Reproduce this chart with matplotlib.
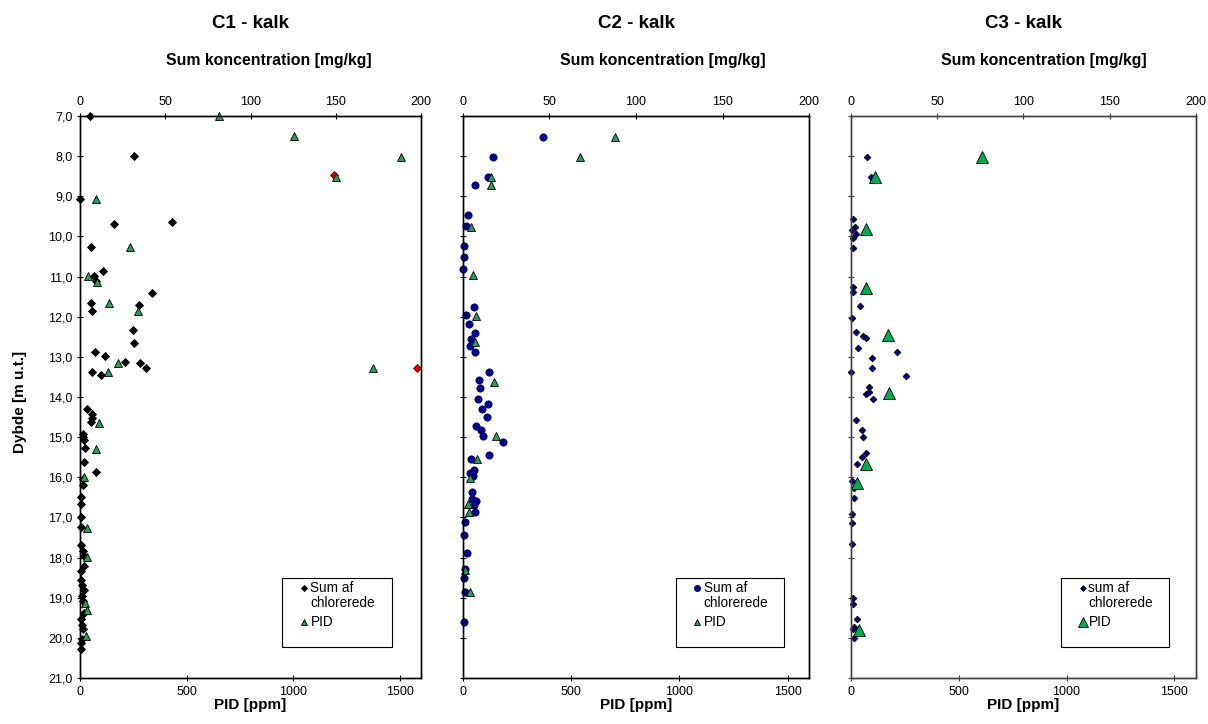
import matplotlib
matplotlib.use("Agg")
import matplotlib.pyplot as plt
from matplotlib.ticker import FuncFormatter
from matplotlib.patches import Rectangle

plt.rcParams['font.family'] = ['Liberation Sans', 'DejaVu Sans']

# ---- data ----
# C1
c1_sum_depth = [7.0, 8.0, 9.08, 9.63, 9.69, 10.27, 10.87, 10.99, 11.1, 11.41,
                11.65, 11.71, 11.87, 12.33, 12.65, 12.88, 12.99, 13.14, 13.16, 13.29,
                13.38, 13.46, 14.31, 14.42, 14.52, 14.62, 14.92, 15.0, 15.06, 15.28,
                15.61, 15.88, 16.05, 16.2, 16.49, 16.66, 17.0, 17.24, 17.69, 17.84,
                17.95, 18.2, 18.34, 18.55, 18.69, 18.81, 18.96, 19.09, 19.38, 19.54,
                19.69, 19.79, 20.02, 20.14, 20.27]
c1_sum = [5.9, 31.7, 0.0, 53.8, 20.1, 6.6, 13.3, 8.4, 9.4, 42.0,
          6.6, 34.8, 7.0, 31.1, 31.9, 9.0, 14.7, 26.4, 35.2, 38.7,
          7.2, 12.1, 4.3, 6.8, 7.0, 6.5, 2.0, 2.0, 2.3, 3.1,
          2.3, 9.4, 2.0, 1.6, 0.6, 0.6, 0.4, 0.4, 0.8, 1.6,
          2.5, 2.3, 0.8, 0.6, 1.4, 2.3, 1.2, 1.6, 2.5, 0.6,
          1.0, 2.0, 1.0, 0.6, 0.4]
c1_red_depth = [8.47, 13.29]
c1_red = [149.2, 197.5]
c1_pid_depth = [7.0, 7.5, 8.02, 8.51, 9.08, 10.26, 10.99, 11.14, 11.65, 11.86, 13.16,
                13.29, 13.37, 14.66, 15.29, 16.0, 17.26, 17.98, 19.13, 19.31, 19.96]
c1_pid = [652, 1003, 1505, 1203, 77, 236, 39, 81, 136, 271, 180,
          1373, 133, 91, 74, 19, 34, 31, 25, 31, 27]

# C2
c2_sum_depth = [7.53, 8.03, 8.52, 8.73, 9.47, 9.75, 10.23, 10.52, 10.82,
                11.75, 11.95, 12.17, 12.40, 12.56, 12.73, 12.87,
                13.38, 13.58, 13.78, 14.06, 14.18, 14.30, 14.50, 14.72,
                14.83, 14.98, 15.11, 15.45, 15.55, 15.83, 15.90, 15.96,
                16.37, 16.55, 16.60, 16.68, 16.87, 17.12, 17.43, 17.88,
                18.29, 18.51, 18.86, 19.60]
c2_sum = [46.5, 17.7, 14.8, 7.1, 3.3, 1.9, 0.8, 0.8, 0.4,
          6.3, 1.9, 3.8, 6.9, 5.0, 4.0, 7.1,
          15.4, 9.6, 10.2, 8.8, 14.6, 11.2, 14.0, 7.7,
          10.6, 11.5, 23.1, 15.4, 4.8, 6.5, 4.4, 6.2,
          5.4, 5.2, 7.5, 6.7, 7.3, 1.2, 1.0, 2.3,
          1.3, 1.0, 1.3, 0.8]
c2_pid_depth = [7.53, 8.03, 8.52, 8.73, 9.76, 10.96, 11.98, 12.63,
                13.63, 14.96, 15.55, 16.02, 16.67, 16.87, 18.32, 18.86]
c2_pid = [702, 543, 132, 132, 40, 49, 62, 58, 145, 152, 68, 32, 26, 28, 11, 34]

# C3
c3_sum_depth = [8.02, 8.52, 9.57, 9.76, 9.84, 9.95, 10.05, 10.28, 11.27, 11.39,
                11.73, 12.02, 12.37, 12.48, 12.52, 12.78, 12.88, 13.03, 13.27, 13.38,
                13.48, 13.76, 13.88, 13.93, 14.04, 14.58, 14.81, 15.0, 15.39, 15.50,
                15.66, 16.09, 16.26, 16.51, 16.91, 17.14, 17.67, 19.0, 19.15, 19.53,
                19.72, 19.78, 20.0]
c3_sum = [9.3, 11.6, 1.4, 2.3, 0.8, 3.1, 1.4, 1.2, 1.4, 1.5,
          5.2, 0.8, 3.1, 7.1, 8.7, 4.4, 26.8, 12.5, 12.2, 0.2,
          32.2, 10.6, 10.8, 8.7, 12.7, 3.1, 6.8, 7.3, 8.7, 6.6,
          3.9, 1.0, 2.1, 1.7, 1.0, 0.8, 0.6, 1.4, 1.4, 3.7,
          2.1, 1.4, 1.7]
c3_pid_depth = [8.02, 8.52, 9.82, 11.29, 12.45, 13.89, 15.68, 16.13, 19.80]
c3_pid = [607, 114, 73, 69, 173, 176, 70, 29, 37]

titles = ['C1 - kalk', 'C2 - kalk', 'C3 - kalk']
sum_labels = ['Sum af', 'Sum af', 'sum af']
y_ticks = list(range(7, 22))

# ---- layout (pixels) ----
W, H = 1208, 724
fig = plt.figure(figsize=(W / 100, H / 100), dpi=100)
panels = [(80, 421), (462.7, 809.3), (850.7, 1196)]
top_px, bot_px = 116, 678
sub_shift = [18, 27, 20]

comma = FuncFormatter(lambda v, p: ('%.1f' % v).replace('.', ','))

series = [
    dict(sd=c1_sum_depth, s=c1_sum, pd=c1_pid_depth, p=c1_pid,
         smk='D', sms=3.6, sfc='black', sec='black',
         pms=5.2, pfc='#2e9a5a', spine='black'),
    dict(sd=c2_sum_depth, s=c2_sum, pd=c2_pid_depth, p=c2_pid,
         smk='o', sms=5.2, sfc='#000080', sec='#000080',
         pms=5.2, pfc='#2e9a5a', spine='black'),
    dict(sd=c3_sum_depth, s=c3_sum, pd=c3_pid_depth, p=c3_pid,
         smk='D', sms=3.4, sfc='#000080', sec='black',
         pms=8, pfc='#00aa50', spine='#404040'),
]

# legend geometry in pixels: box (left, right), marker x, text x
leg_box = [(282, 392), (675.7, 784.3), (1060.7, 1169.3)]
leg_mx = [304, 697.3, 1082.5]
leg_tx = [310.5, 703.5, 1088.5]
leg_top, leg_bot = 578, 647
row_y = [588, 603, 622]

for i, (x0, x1) in enumerate(panels):
    cfg = series[i]
    rect = [x0 / W, 1 - bot_px / H, (x1 - x0) / W, (bot_px - top_px) / H]
    ax = fig.add_axes(rect)          # sum koncentration, top axis
    ax2 = ax.twiny()                 # PID, bottom axis (drawn on top)

    ax.plot(cfg['s'], cfg['sd'], linestyle='none', marker=cfg['smk'],
            ms=cfg['sms'], mfc=cfg['sfc'], mec=cfg['sec'], mew=0.6, clip_on=False)
    if i == 0:
        ax.plot(c1_red, c1_red_depth, linestyle='none', marker='D', ms=3.6,
                mfc='#dd0000', mec='#600000', mew=0.6, clip_on=False)
    ax2.plot(cfg['p'], cfg['pd'], linestyle='none', marker='^', ms=cfg['pms'],
             mfc=cfg['pfc'], mec='black', mew=0.6, clip_on=False)

    ax.set_xlim(0, 200)
    ax.set_xticks([0, 50, 100, 150, 200])
    ax2.set_xlim(0, 1600)
    ax2.set_xticks([0, 500, 1000, 1500])
    ax.set_ylim(21, 7)
    ax.set_yticks(y_ticks)
    ax.yaxis.set_major_formatter(comma)

    ax.xaxis.tick_top()
    ax2.xaxis.tick_bottom()
    ax2.xaxis.set_label_position('bottom')

    ax.tick_params(axis='x', direction='inout', length=5, width=0.8,
                   labelsize=9, pad=3, colors=cfg['spine'], labelcolor='black')
    ax.tick_params(axis='y', direction='inout', length=5, width=0.8,
                   labelsize=9, pad=3, colors=cfg['spine'], labelcolor='black',
                   labelleft=(i == 0))
    ax2.tick_params(axis='x', direction='inout', length=5, width=0.8,
                    labelsize=9, pad=3, colors=cfg['spine'], labelcolor='black')
    for a in (ax, ax2):
        for sp in a.spines.values():
            sp.set_color(cfg['spine'])
            sp.set_linewidth(1.0)

    ax2.set_xlabel('PID [ppm]', fontsize=11, fontweight='bold', labelpad=0)

    cx = (x0 + x1) / 2
    fig.text(cx / W, 1 - 24 / H, titles[i], ha='center', va='center',
             fontsize=13.5, fontweight='bold')
    fig.text((cx + sub_shift[i]) / W, 1 - 61 / H, 'Sum koncentration [mg/kg]',
             ha='center', va='center', fontsize=11.4, fontweight='bold')

    # legend (box, markers and text placed by hand, Excel style)
    def fx(px):
        return (px - x0) / (x1 - x0)

    def fy(py):
        return (bot_px - py) / (bot_px - top_px)

    bl, br = leg_box[i]
    ax2.add_patch(Rectangle((fx(bl), fy(leg_bot)), fx(br) - fx(bl),
                            fy(leg_top) - fy(leg_bot), transform=ax2.transAxes,
                            facecolor='white', edgecolor='black', lw=0.8,
                            zorder=5, clip_on=False))
    ax2.plot([fx(leg_mx[i])], [fy(row_y[0])], transform=ax2.transAxes,
             linestyle='none', marker=cfg['smk'], ms=cfg['sms'] * 0.85,
             mfc=cfg['sfc'], mec=cfg['sec'], mew=0.6, zorder=6, clip_on=False)
    ax2.plot([fx(leg_mx[i])], [fy(row_y[2])], transform=ax2.transAxes,
             linestyle='none', marker='^', ms=cfg['pms'] * 0.85,
             mfc=cfg['pfc'], mec='black', mew=0.6, zorder=6, clip_on=False)
    for txt, ry in zip([sum_labels[i], 'chlorerede', 'PID'], row_y):
        ax2.text(fx(leg_tx[i]), fy(ry), txt, transform=ax2.transAxes,
                 ha='left', va='center', fontsize=9.8, zorder=7)

fig.text(20 / W, 1 - 402 / H, 'Dybde [m u.t.]', rotation=90, ha='center',
         va='center', fontsize=11, fontweight='bold')

fig.savefig('out.png', dpi=100)
